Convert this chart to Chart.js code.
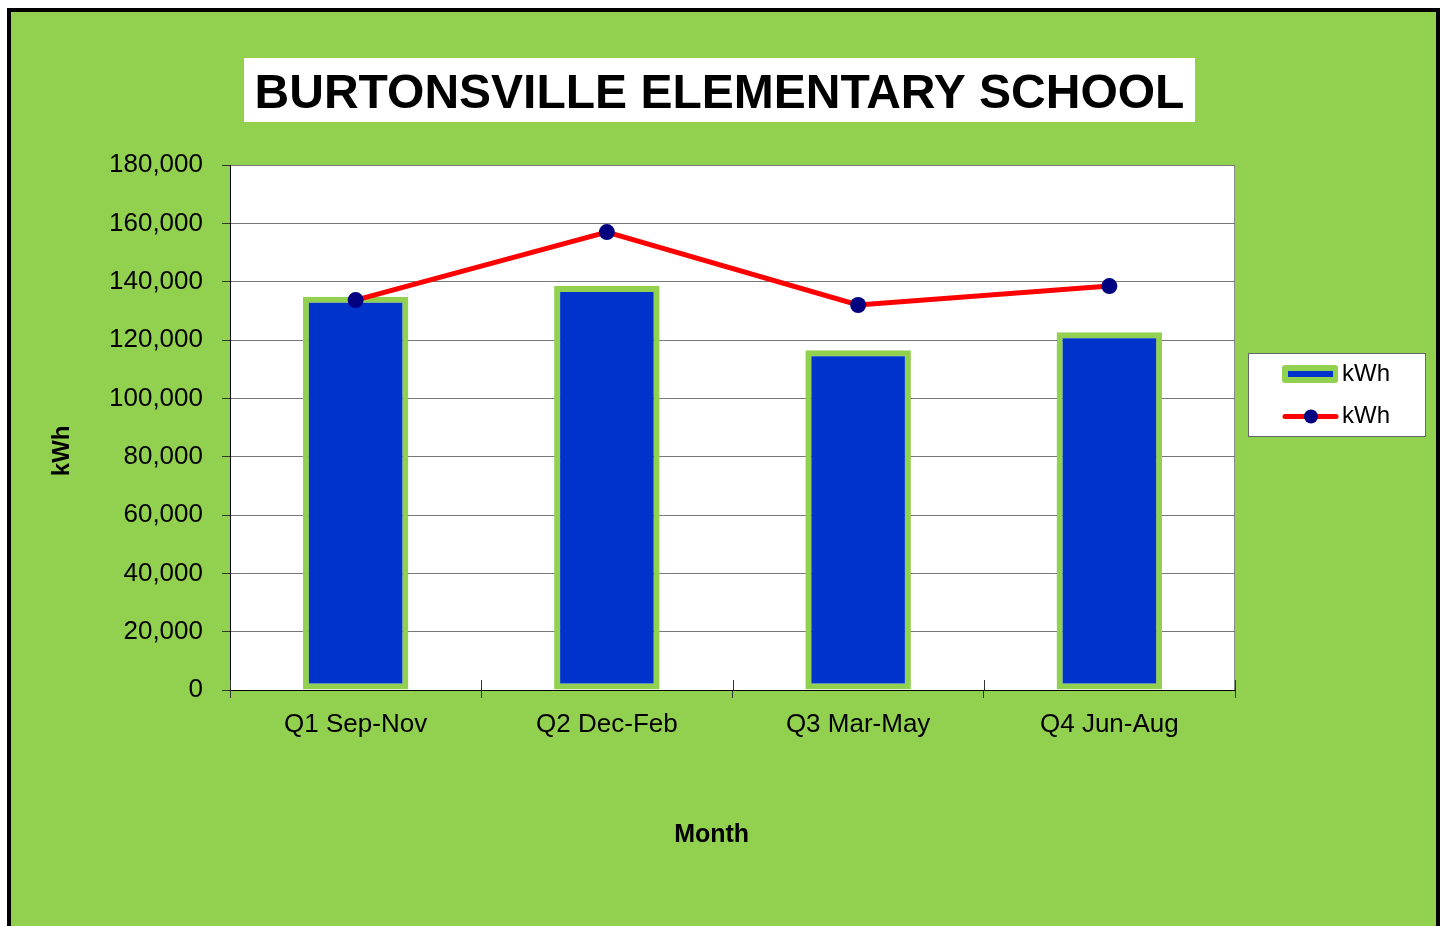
<!DOCTYPE html>
<html>
<head>
<meta charset="utf-8">
<title>Burtonsville Elementary School</title>
<script src="https://cdn.jsdelivr.net/npm/chart.js@4.4.1/dist/chart.umd.min.js"></script>
<style>
  html, body { margin: 0; padding: 0; background: #fff; }
</style>
</head>
<body>
<canvas id="kwh" width="1444" height="926"></canvas>
<script>
// data
const quarters = ['Q1 Sep-Nov', 'Q2 Dec-Feb', 'Q3 Mar-May', 'Q4 Jun-Aug'];
const barKwh = [134800, 138500, 116500, 122700];
const lineKwh = [133700, 157000, 132000, 138500];
const yTicks = [0, 20000, 40000, 60000, 80000, 100000, 120000, 140000, 160000, 180000];

const chartTitle = 'BURTONSVILLE ELEMENTARY SCHOOL';
const green = '#92D050';
const narrow = "'Liberation Sans Narrow', 'Arial Narrow', 'Liberation Sans', sans-serif";
const sans = "'Liberation Sans', Arial, sans-serif";

// background, black frame, title box, plot area
const framePlugin = {
    id: 'frame',
    beforeDraw(chart) {
        const ctx = chart.ctx;
        const a = chart.chartArea;
        ctx.save();
        ctx.fillStyle = '#fff';
        ctx.fillRect(0, 0, chart.width, chart.height);
        ctx.fillStyle = '#000';
        ctx.fillRect(7, 8, 1433, 940);
        ctx.fillStyle = green;
        ctx.fillRect(11, 12, 1425, 940);

        ctx.fillStyle = '#fff';
        ctx.fillRect(244, 58, 951, 64);
        ctx.fillStyle = '#000';
        ctx.font = 'bold 48px ' + sans;
        ctx.textAlign = 'center';
        ctx.textBaseline = 'alphabetic';
        ctx.fillText(chartTitle, 719.5, 108);

        ctx.fillStyle = '#fff';
        ctx.fillRect(a.left, a.top, a.right - a.left, a.bottom - a.top);
        ctx.strokeStyle = '#888';
        ctx.lineWidth = 1;
        ctx.strokeRect(a.left + 0.5, a.top + 0.5, a.right - a.left - 1, a.bottom - a.top);
        ctx.restore();
    }
};

// x tick marks also reach a little into the plot, as in the original
const innerTicks = {
    id: 'innerTicks',
    afterDatasetsDraw(chart) {
        const ctx = chart.ctx;
        const x = chart.scales.x;
        const bottom = chart.chartArea.bottom;
        ctx.save();
        ctx.strokeStyle = '#333';
        ctx.lineWidth = 1;
        ctx.beginPath();
        for (let i = 0; i <= quarters.length; i++) {
            const px = Math.round(x.getPixelForValue(i - 0.5)) + 0.5;
            ctx.moveTo(px, bottom - 10);
            ctx.lineTo(px, bottom);
        }
        ctx.stroke();
        ctx.restore();
    }
};

// boxed legend on the right
const legendPlugin = {
    id: 'boxLegend',
    afterDraw(chart) {
        const ctx = chart.ctx;
        const bar = chart.data.datasets[0];
        const line = chart.data.datasets[1];
        ctx.save();
        ctx.fillStyle = '#fff';
        ctx.fillRect(1248, 353, 178, 84);
        ctx.strokeStyle = '#666';
        ctx.lineWidth = 1;
        ctx.strokeRect(1248.5, 353.5, 177, 83);

        ctx.fillStyle = bar.borderColor;
        ctx.beginPath();
        ctx.roundRect(1282, 365, 56, 18, 3);
        ctx.fill();
        ctx.fillStyle = bar.backgroundColor;
        ctx.fillRect(1288, 371, 45, 6);

        ctx.strokeStyle = line.borderColor;
        ctx.lineWidth = 5;
        ctx.lineCap = 'round';
        ctx.beginPath();
        ctx.moveTo(1285, 416.5);
        ctx.lineTo(1336, 416.5);
        ctx.stroke();
        ctx.fillStyle = line.pointBackgroundColor;
        ctx.beginPath();
        ctx.arc(1311, 416.5, 7, 0, Math.PI * 2);
        ctx.fill();

        ctx.fillStyle = '#000';
        ctx.font = '24px ' + sans;
        ctx.textAlign = 'left';
        ctx.textBaseline = 'middle';
        ctx.fillText(bar.label, 1342, 374);
        ctx.fillText(line.label, 1342, 416);
        ctx.restore();
    }
};

const ctx = document.getElementById('kwh');
const kwhChart = new Chart(ctx, {
    type: 'bar',
    data: {
        labels: quarters,
        datasets: [{
            label: 'kWh',
            data: barKwh,
            backgroundColor: '#0033CC',
            borderColor: green,
            borderWidth: 6,
            borderSkipped: false,
            categoryPercentage: 1,
            barPercentage: 0.42,
            order: 2
        }, {
            type: 'line',
            label: 'kWh',
            data: lineKwh,
            borderColor: '#FF0000',
            borderWidth: 5,
            pointBackgroundColor: '#000080',
            pointBorderColor: '#000080',
            pointBorderWidth: 0,
            pointRadius: 8,
            tension: 0,
            order: 1
        }]
    },
    options: {
        responsive: false,
        devicePixelRatio: 1,
        animation: false,
        layout: {
            padding: { left: 0, right: 209, top: 165, bottom: 0 }
        },
        plugins: {
            legend: { display: false },
            tooltip: { enabled: false }
        },
        scales: {
            x: {
                afterFit(scale) { scale.height = 236; },
                grid: {
                    offset: true,
                    drawOnChartArea: false,
                    tickLength: 8,
                    tickColor: '#333'
                },
                border: { color: '#000', width: 1 },
                ticks: {
                    color: '#000',
                    padding: 11,
                    font: { family: narrow, size: 26 }
                },
                title: {
                    display: true,
                    text: 'Month      ',
                    color: '#000',
                    padding: { top: 0, bottom: 76 },
                    font: { family: sans, size: 25, weight: 'bold' }
                }
            },
            y: {
                min: 0,
                max: 180000,
                afterFit(scale) { scale.width = 230; },
                afterBuildTicks(scale) {
                    scale.ticks = yTicks.map(v => ({ value: v }));
                },
                grid: {
                    color: '#777',
                    tickColor: '#333',
                    tickLength: 8
                },
                border: { color: '#000', width: 1 },
                ticks: {
                    color: '#000',
                    padding: 19,
                    font: { family: narrow, size: 26 },
                    callback: v => v.toLocaleString('en-US')
                },
                title: {
                    display: true,
                    text: 'kWh       ',
                    color: '#000',
                    padding: { top: 48, bottom: 0 },
                    font: { family: sans, size: 24, weight: 'bold' }
                }
            }
        }
    },
    plugins: [framePlugin, innerTicks, legendPlugin]
});
</script>
</body>
</html>
